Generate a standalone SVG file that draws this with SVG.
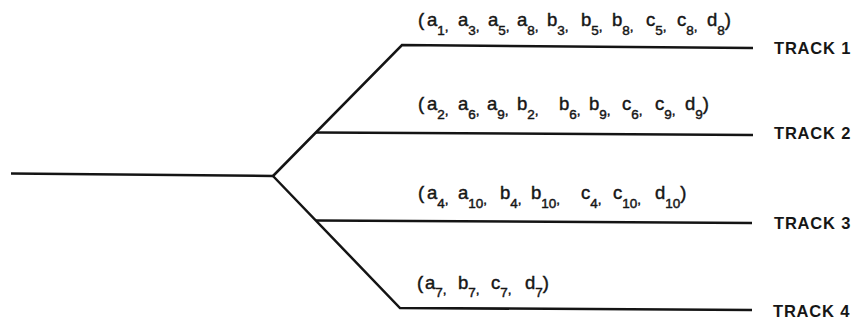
<svg xmlns="http://www.w3.org/2000/svg" width="861" height="321" viewBox="0 0 861 321">
<style>
.ln{fill:none;stroke:#141414;stroke-width:2.5;stroke-linejoin:miter;stroke-linecap:butt}
.set{font-family:"Liberation Sans",Arial,sans-serif;font-size:18.5px;fill:#161616;stroke:#161616;stroke-width:0.45px}
.sub{font-size:13.5px}
.trk{font-family:"Liberation Sans",Arial,sans-serif;font-size:16.5px;font-weight:bold;letter-spacing:0.8px;fill:#161616}
</style>
<rect width="861" height="321" fill="#ffffff"/>
<g id="connectors">
<path class="ln" d="M11,173.5 L273,176"/>
<path class="ln" d="M273,176 L402,45 L753,48"/>
<path class="ln" d="M316,132.5 L753,135"/>
<path class="ln" d="M273,176 L400,308 L752,310"/>
<path class="ln" d="M316,220.5 L752,223"/>
</g>
<g id="track1">
<text class="set"><tspan x="418" y="26">(</tspan><tspan x="427" y="26">a</tspan><tspan class="sub" y="35">1</tspan><tspan class="sub" y="31">,</tspan><tspan x="458" y="26">a</tspan><tspan class="sub" y="35">3</tspan><tspan class="sub" y="31">,</tspan><tspan x="488" y="26">a</tspan><tspan class="sub" y="35">5</tspan><tspan class="sub" y="31">,</tspan><tspan x="517" y="26">a</tspan><tspan class="sub" y="35">8</tspan><tspan class="sub" y="31">,</tspan><tspan x="547" y="26">b</tspan><tspan class="sub" y="35">3</tspan><tspan class="sub" y="31">,</tspan><tspan x="581" y="26">b</tspan><tspan class="sub" y="35">5</tspan><tspan class="sub" y="31">,</tspan><tspan x="612" y="26">b</tspan><tspan class="sub" y="35">8</tspan><tspan class="sub" y="31">,</tspan><tspan x="646" y="26">c</tspan><tspan class="sub" y="35">5</tspan><tspan class="sub" y="31">,</tspan><tspan x="677" y="26">c</tspan><tspan class="sub" y="35">8</tspan><tspan class="sub" y="31">,</tspan><tspan x="707" y="26">d</tspan><tspan class="sub" y="35">8</tspan><tspan y="26">)</tspan></text>
<text class="trk" x="774" y="54">TRACK 1</text>
</g>
<g id="track2">
<text class="set"><tspan x="418" y="110">(</tspan><tspan x="427" y="110">a</tspan><tspan class="sub" y="119">2</tspan><tspan class="sub" y="115">,</tspan><tspan x="458" y="110">a</tspan><tspan class="sub" y="119">6</tspan><tspan class="sub" y="115">,</tspan><tspan x="487" y="110">a</tspan><tspan class="sub" y="119">9</tspan><tspan class="sub" y="115">,</tspan><tspan x="517" y="110">b</tspan><tspan class="sub" y="119">2</tspan><tspan class="sub" y="115">,</tspan><tspan x="559" y="110">b</tspan><tspan class="sub" y="119">6</tspan><tspan class="sub" y="115">,</tspan><tspan x="589" y="110">b</tspan><tspan class="sub" y="119">9</tspan><tspan class="sub" y="115">,</tspan><tspan x="622" y="110">c</tspan><tspan class="sub" y="119">6</tspan><tspan class="sub" y="115">,</tspan><tspan x="655" y="110">c</tspan><tspan class="sub" y="119">9</tspan><tspan class="sub" y="115">,</tspan><tspan x="685" y="110">d</tspan><tspan class="sub" y="119">9</tspan><tspan y="110">)</tspan></text>
<text class="trk" x="774" y="139">TRACK 2</text>
</g>
<g id="track3">
<text class="set"><tspan x="418" y="199">(</tspan><tspan x="427" y="199">a</tspan><tspan class="sub" y="207.5">4</tspan><tspan class="sub" y="203.5">,</tspan><tspan x="458" y="199">a</tspan><tspan class="sub" y="207.5">10</tspan><tspan class="sub" y="203.5">,</tspan><tspan x="500" y="199">b</tspan><tspan class="sub" y="207.5">4</tspan><tspan class="sub" y="203.5">,</tspan><tspan x="531" y="199">b</tspan><tspan class="sub" y="207.5">10</tspan><tspan class="sub" y="203.5">,</tspan><tspan x="581" y="199">c</tspan><tspan class="sub" y="207.5">4</tspan><tspan class="sub" y="203.5">,</tspan><tspan x="613" y="199">c</tspan><tspan class="sub" y="207.5">10</tspan><tspan class="sub" y="203.5">,</tspan><tspan x="655" y="199">d</tspan><tspan class="sub" y="207.5">10</tspan><tspan y="199">)</tspan></text>
<text class="trk" x="774" y="229">TRACK 3</text>
</g>
<g id="track4">
<text class="set"><tspan x="417" y="289">(</tspan><tspan x="425" y="289">a</tspan><tspan class="sub" y="297">7</tspan><tspan class="sub" y="293.5">,</tspan><tspan x="458" y="289">b</tspan><tspan class="sub" y="297">7</tspan><tspan class="sub" y="293.5">,</tspan><tspan x="491" y="289">c</tspan><tspan class="sub" y="297">7</tspan><tspan class="sub" y="293.5">,</tspan><tspan x="525" y="289">d</tspan><tspan class="sub" y="297">7</tspan><tspan y="289">)</tspan></text>
<text class="trk" x="773" y="317">TRACK 4</text>
</g>
</svg>
